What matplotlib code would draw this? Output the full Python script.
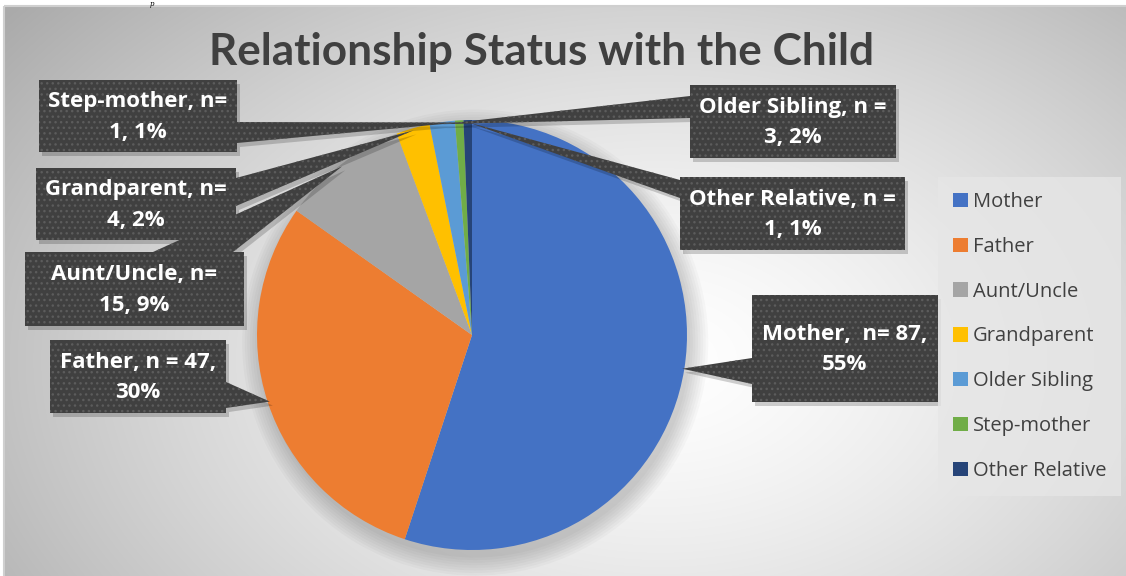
"""
Pie chart of the relationship of the respondent to the child,
drawn with Excel-like callout boxes and a soft radial background.
"""

import matplotlib
matplotlib.use("Agg")
import matplotlib.pyplot as plt
import numpy as np
from matplotlib.patches import Circle, Polygon, Rectangle

# Data
CATEGORIES = ["Mother", "Father", "Aunt/Uncle", "Grandparent",
              "Older Sibling", "Step-mother", "Other Relative"]
COUNTS = [87, 47, 15, 4, 3, 1, 1]
PERCENTS = [55, 30, 9, 2, 2, 1, 1]
LABEL_FORMATS = [
    "{name},  n= {n},\n{p}%",
    "{name}, n = {n},\n{p}%",
    "{name}, n=\n{n}, {p}%",
    "{name}, n=\n{n}, {p}%",
    "{name}, n =\n{n}, {p}%",
    "{name}, n=\n{n}, {p}%",
    "{name}, n =\n{n}, {p}%",
]
TITLE = "Relationship Status with the Child"

COLORS = ["#4472C4", "#ED7D31", "#A5A5A5", "#FFC000",
          "#5B9BD5", "#70AD47", "#264478"]

# Callout boxes in pixel space: x0, y0, x1, y1, edge carrying the pointer, base start, base end
BOXES = [
    (752, 295, 938, 402, "left", 358, 384),
    (50, 340, 226, 413, "right", 382, 408),
    (25, 252, 244, 326, "top", 153, 233),
    (36, 168, 236, 240, "right", 178, 206),
    (690, 85, 896, 158, "left", 96, 118),
    (39, 80, 237, 152, "right", 122, 143),
    (680, 177, 905, 250, "left", 180, 198),
]

W, H = 1126, 576
TITLE_FONT = ["Lato", "DejaVu Sans"]
LABEL_FONT = ["Open Sans", "DejaVu Sans"]
TEXT_DARK = "#404040"
BOX_FACE = "#404040"


def callout_vertices(box, tip):
    x0, y0, x1, y1, edge, b1, b2 = box
    if edge == "right":
        return [(x0, y0), (x1, y0), (x1, b1), tip, (x1, b2), (x1, y1), (x0, y1)]
    if edge == "left":
        return [(x0, y0), (x1, y0), (x1, y1), (x0, y1), (x0, b2), tip, (x0, b1)]
    # top edge
    return [(x0, y0), (b1, y0), tip, (b2, y0), (x1, y0), (x1, y1), (x0, y1)]


def main() -> None:
    plt.rcParams["font.family"] = LABEL_FONT
    fig = plt.figure(figsize=(W / 100, H / 100), dpi=100)

    # Background layer (pixel coordinates, y pointing down)
    bg = fig.add_axes([0, 0, 1, 1], zorder=0)
    bg.set_xlim(0, W)
    bg.set_ylim(H, 0)
    bg.axis("off")
    yy, xx = np.mgrid[0:H, 0:W]
    r = np.sqrt(((xx - 660) / 640.0) ** 2 + ((yy - 360) / 430.0) ** 2)
    shade = 1.0 - 0.23 * np.clip(r, 0, 1.3) ** 1.4
    bg.imshow(np.dstack([shade] * 3), extent=[0, W, H, 0], aspect="auto",
              interpolation="bilinear", zorder=0)
    bg.add_patch(Rectangle((0, 0), W, 6, facecolor="white", edgecolor="none", zorder=1))
    bg.add_patch(Rectangle((4, 6), W + 5, H, facecolor="none",
                           edgecolor="#cfcfcf", linewidth=1.5, zorder=2))
    bg.add_patch(Rectangle((0, 0), 4, H, facecolor="white", edgecolor="none", zorder=1))
    # stray glyph from the page the chart was cut from
    fig.text(152 / W, 1.0, "p", family="DejaVu Serif", style="italic",
             fontsize=5, color="black", va="top", ha="center")

    # Pie layer
    cx, cy, rad = 472, 335, 215
    pie_ax = fig.add_axes([(cx - rad) / W, (H - cy - rad) / H, 2 * rad / W, 2 * rad / H],
                          zorder=1)
    for k in range(8):
        pie_ax.add_patch(Circle((0.015, -0.035), 1.0 + 0.012 * k, facecolor="black",
                                edgecolor="none", alpha=0.025, clip_on=False))
    wedges, _ = pie_ax.pie(COUNTS, colors=COLORS, startangle=90, counterclock=False,
                           radius=1.0, wedgeprops=dict(linewidth=0))
    pie_ax.set_xlim(-1, 1)
    pie_ax.set_ylim(-1, 1)
    pie_ax.set_aspect("equal")
    pie_ax.apply_aspect()

    # Foreground layer: title, callouts
    fg = fig.add_axes([0, 0, 1, 1], zorder=2)
    fg.set_xlim(0, W)
    fg.set_ylim(H, 0)
    fg.axis("off")
    fg.patch.set_alpha(0)

    fg.text(542, 65, TITLE, ha="center", va="baseline", fontsize=31.8,
            fontweight="bold", color=TEXT_DARK, family=TITLE_FONT)

    to_fg = fg.transData.inverted()
    for wedge, name, n, p, fmt, box in zip(wedges, CATEGORIES, COUNTS, PERCENTS,
                                           LABEL_FORMATS, BOXES):
        mid = np.deg2rad((wedge.theta1 + wedge.theta2) / 2)
        tip_disp = pie_ax.transData.transform((0.99 * np.cos(mid), 0.99 * np.sin(mid)))
        tip = tuple(to_fg.transform(tip_disp))
        verts = callout_vertices(box, tip)
        shadow = [(x + 3, y + 4) for x, y in verts]
        fg.add_patch(Polygon(shadow, closed=True, facecolor="black",
                             edgecolor="none", alpha=0.18, zorder=3))
        fg.add_patch(Polygon(verts, closed=True, facecolor=BOX_FACE,
                             edgecolor="none", zorder=4))
        fg.add_patch(Polygon(verts, closed=True, facecolor="none", edgecolor="#5c5c5c",
                             linewidth=0, hatch="...", zorder=5))
        x0, y0, x1, y1 = box[:4]
        fg.text((x0 + x1) / 2, (y0 + y1) / 2 + 1, fmt.format(name=name, n=n, p=p),
                ha="center", va="center", fontsize=16, fontweight="bold",
                color="white", linespacing=1.58, zorder=6)

    # Legend
    leg = fig.legend(wedges, CATEGORIES, loc="upper left",
                     bbox_to_anchor=(938 / W, 1 - 177 / H), fontsize=14.5,
                     frameon=True, fancybox=False, borderpad=0.75,
                     labelspacing=1.23, handlelength=0.72, handleheight=0.72,
                     handletextpad=0.25, borderaxespad=0)
    leg.get_frame().set_facecolor("#e6e6e6")
    leg.get_frame().set_alpha(0.8)
    leg.get_frame().set_edgecolor("none")
    for t in leg.get_texts():
        t.set_color(TEXT_DARK)
    leg.set_zorder(7)

    fig.savefig("out.png", dpi=100)
    plt.close(fig)


if __name__ == "__main__":
    main()
